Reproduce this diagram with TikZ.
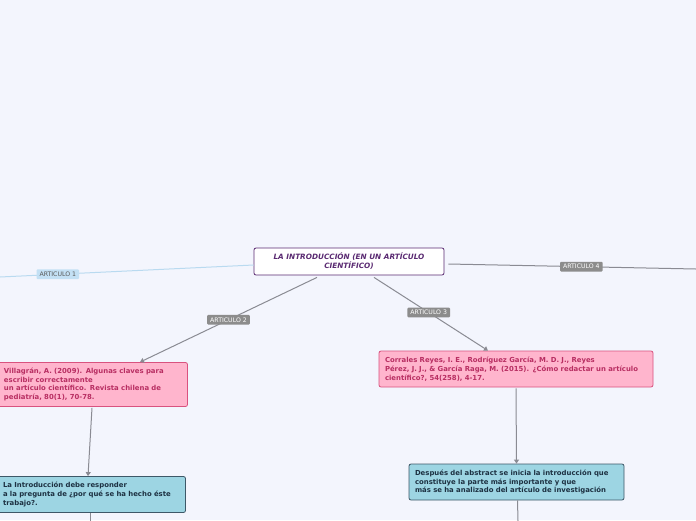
\documentclass[tikz,border=0pt]{standalone}
\usepackage{fontspec}
\setmainfont{DejaVu Sans}
\usepackage{xcolor}
\usetikzlibrary{arrows.meta,positioning}

\definecolor{bgcol}{HTML}{F3F5FD}
\definecolor{mainpurple}{HTML}{5A2A72}
\definecolor{pinkfill}{HTML}{FFB5CD}
\definecolor{pinkdraw}{HTML}{D9527F}
\definecolor{pinktext}{HTML}{B82E62}
\definecolor{bluefill}{HTML}{9DD5E3}
\definecolor{bluedraw}{HTML}{3D5868}
\definecolor{bluetext}{HTML}{1D3142}
\definecolor{linegray}{HTML}{8A8B93}
\definecolor{lblgray}{HTML}{8C8C8C}
\definecolor{lightline}{HTML}{B9DAF0}
\definecolor{lightlbl}{HTML}{C3E0F4}

\begin{document}
\begin{tikzpicture}[x=1pt,y=-1pt,
      mainbox/.style={draw=mainpurple,fill=white,rounded corners=2pt,line width=0.8pt,minimum width=190pt,minimum height=27pt,align=center,inner sep=2pt,text=mainpurple,font=\fontsize{7.3}{9}\selectfont\bfseries\itshape},
      refbox/.style={draw=pinkdraw,fill=pinkfill,rounded corners=2pt,line width=0.8pt,align=left,inner xsep=6pt,inner ysep=3pt,text=pinktext,font=\fontsize{6.9}{8.8}\selectfont\bfseries},
      notebox/.style={draw=bluedraw,fill=bluefill,rounded corners=2pt,line width=0.8pt,align=left,inner xsep=6pt,inner ysep=3pt,text=bluetext,font=\fontsize{6.9}{8.8}\selectfont\bfseries},
      lbl/.style={fill=lblgray,text=white,rounded corners=1pt,inner xsep=3pt,inner ysep=2.5pt,font=\fontsize{6.2}{7}\selectfont},
      lbllight/.style={lbl,fill=lightlbl,text=black!65},
      link/.style={draw=linegray,line width=1pt},
      arrowlink/.style={link,-{Triangle[width=5pt,length=4pt]}}]
    \fill[bgcol] (0,0) rectangle (696,520);
    \useasboundingbox (0,0) rectangle (696,520);
    % central topic
    \node[mainbox] (main) at (349,261.5) {LA INTRODUCCIÓN (EN UN ARTÍCULO\\CIENTÍFICO)};
    % references
    \node[refbox,minimum width=191pt,minimum height=44pt,inner xsep=7.5pt,text width=176pt] (vill) at (92,384.5)
      {Villagrán, A. (2009). Algunas claves para\\escribir correctamente\\un artículo científico. Revista chilena de\\pediatría, 80(1), 70-78.};
    \node[refbox,minimum width=274pt,minimum height=36pt,text width=262pt] (corr) at (516,369)
      {Corrales Reyes, I. E., Rodríguez García, M. D. J., Reyes\\Pérez, J. J., \& García Raga, M. (2015). ¿Cómo redactar un artículo\\científico?, 54(258), 4-17.};
    % notes
    \node[notebox,minimum width=191pt,minimum height=36pt,inner xsep=8.5pt,text width=174pt] (intro) at (90,494.5)
      {La Introducción debe responder\\a la pregunta de ¿por qué se ha hecho éste\\trabajo?.};
    \node[notebox,minimum width=215pt,minimum height=36pt,text width=203pt] (abst) at (516.5,482)
      {Después del abstract se inicia la introducción que\\constituye la parte más importante y que\\más se ha analizado del artículo de investigación};
    % free ends
    \coordinate (end1) at (0,277);
    \coordinate (end4) at (696,269);
    \coordinate (down1) at (90,521);
    \coordinate (down2) at (518,521);
    % connectors
    \draw[draw=lightline,line width=1pt] ([yshift=-3.5pt]main.west) -- (end1)
      node[lbllight,pos=0.772] (art1) {ARTICULO 1};
    \draw[link] ([xshift=4pt,yshift=-2.5pt]main.east) -- (end4)
      node[lbl,pos=0.537] (art4) {ARTICULO 4};
    \draw[arrowlink] ([xshift=-32pt,yshift=-2pt]main.south) -- ([xshift=48pt]vill.north)
      node[lbl,pos=0.5] (art2) {ARTICULO 2};
    \draw[arrowlink] ([xshift=25pt,yshift=-2pt]main.south) -- ([xshift=-28pt]corr.north)
      node[lbl,pos=0.48] (art3) {ARTICULO 3};
    \draw[arrowlink] ([yshift=-1pt]vill.south) -- ([xshift=-2pt]intro.north);
    \draw[arrowlink] ([yshift=-1pt]corr.south) -- (abst.north);
    \draw[link] (intro.south) -- (down1);
    \draw[link] ([xshift=1pt]abst.south) -- (down2);
\end{tikzpicture}
\end{document}
